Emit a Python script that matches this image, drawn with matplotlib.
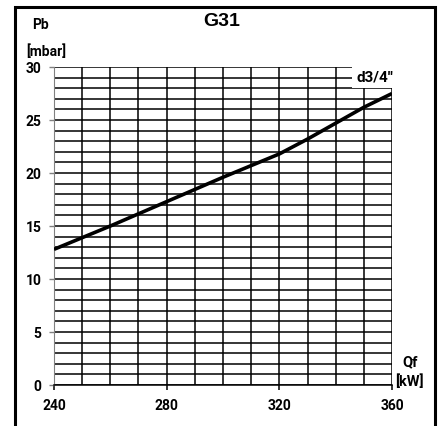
import matplotlib
matplotlib.use("Agg")
import matplotlib.pyplot as plt
from matplotlib.patches import Rectangle

# curva perdita di carico d3/4'' - gas G31
qf = [240, 260, 280, 300, 310, 320, 330, 350, 360]
pb = [12.8, 15.0, 17.3, 19.6, 20.7, 21.8, 23.2, 26.2, 27.5]
x_ticks = [240, 280, 320, 360]
y_ticks = [0, 5, 10, 15, 20, 25, 30]
curve_label = "d3/4''"

lbl_font = ["Roboto", "DejaVu Sans"]

fig = plt.figure(figsize=(4.44, 4.26), dpi=100)
ax = fig.add_axes([0.1216, 0.0962, 0.7613, 0.7465])

# griglia fitta: 10 kW in orizzontale, 1 mbar in verticale
for x in range(240, 361, 10):
    ax.axvline(x, color="black", lw=1.1, zorder=1)
for y in range(0, 31):
    ax.axhline(y, color="black", lw=1.1, zorder=1)

ax.plot(qf, pb, color="black", lw=2.6, zorder=3, solid_capstyle="butt")

ax.set_xlim(240, 360)
ax.set_ylim(0, 30)
ax.set_xticks(x_ticks)
ax.set_yticks(y_ticks)
for s in ["top", "right"]:
    ax.spines[s].set_visible(False)
ax.spines["left"].set_color("#808080")
ax.spines["bottom"].set_color("black")
ax.spines["bottom"].set_linewidth(1.1)
ax.tick_params(axis="y", colors="#808080", length=3.6, width=1, pad=5.5)
ax.tick_params(axis="x", colors="black", length=3.6, width=1.1, pad=6.5)
for t in ax.get_xticklabels() + ax.get_yticklabels():
    t.set_color("black")
    t.set_fontweight("bold")
    t.set_fontsize(10)
    t.set_family(lbl_font)

# riquadro bianco con l'etichetta della curva
ax.add_patch(Rectangle((345.8, 28.0), 16, 2.6, facecolor="white",
                       edgecolor="none", zorder=2, clip_on=False))
ax.text(353.8, 29.05, curve_label, ha="center", va="center", fontsize=11,
        fontweight="bold", family=lbl_font, zorder=4)

fig.text(0.5, 0.949, "G31", ha="center", va="center", fontsize=14,
         fontweight="bold", family="Liberation Sans")
fig.text(0.092, 0.941, "Pb", ha="center", va="center", fontsize=10,
         fontweight="bold", family=lbl_font)
fig.text(0.104, 0.878, "[mbar]", ha="center", va="center", fontsize=10,
         fontweight="bold", family=lbl_font)
fig.text(0.923, 0.150, "Qf", ha="center", va="center", fontsize=10.5,
         fontweight="bold", family=lbl_font)
fig.text(0.923, 0.103, "[kW]", ha="center", va="center", fontsize=10.5,
         fontweight="bold", family=lbl_font)

# cornice esterna
fig.add_artist(Rectangle((0.034, -0.05), 0.946, 1.034, transform=fig.transFigure,
                         fill=False, edgecolor="black", lw=2.2))

fig.savefig("out.png", dpi=100)
